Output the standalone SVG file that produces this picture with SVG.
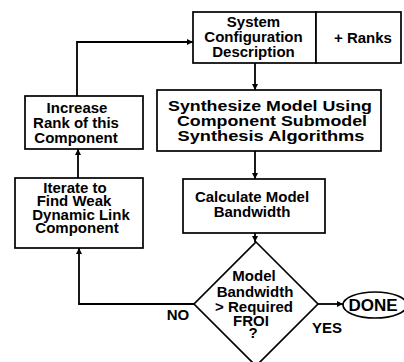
<svg xmlns="http://www.w3.org/2000/svg" width="404" height="362" viewBox="0 0 404 362">
<defs>
<marker id="ah" viewBox="0 0 10 10" refX="10" refY="5" markerWidth="7" markerHeight="6" markerUnits="userSpaceOnUse" orient="auto">
<path d="M0,0 L10,5 L0,10 z" fill="#000"/>
</marker>
<style>
.b{fill:#fff;stroke:#000;stroke-width:1.7}
.c{fill:none;stroke:#000;stroke-width:1.8;marker-end:url(#ah)}
text{font-family:"Liberation Sans",Arial,sans-serif;font-weight:bold;font-size:15px;text-anchor:middle;fill:#000}
.big{font-size:17px}
.syn{font-size:15.5px}
</style>
</defs>
<rect width="404" height="362" fill="#fff"/>
<g id="connectors">
<path class="c" d="M255,63 V90"/>
<path class="c" d="M255,151 V179"/>
<path class="c" d="M255,233 V242"/>
<path class="c" d="M317,304 H343"/>
<path class="c" d="M194,304 H79 V248"/>
<path class="c" d="M78,178 V149"/>
<path class="c" d="M77,96 V42 H193"/>
</g>
<g id="system">
<rect class="b" x="193" y="12" width="123" height="51"/>
<text x="253.5" y="27">System</text>
<text x="253.5" y="42">Configuration</text>
<text x="253.5" y="57">Description</text>
</g>
<g id="ranks">
<rect class="b" x="316" y="12" width="85" height="51"/>
<text x="363" y="43">+ Ranks</text>
</g>
<g id="synthesize">
<rect class="b" x="157" y="90" width="224" height="61"/>
<text class="syn" x="270" y="111" textLength="204" lengthAdjust="spacingAndGlyphs">Synthesize Model Using</text>
<text class="syn" x="272" y="126" textLength="190" lengthAdjust="spacingAndGlyphs">Component Submodel</text>
<text class="syn" x="271" y="141" textLength="187" lengthAdjust="spacingAndGlyphs">Synthesis Algorithms</text>
</g>
<g id="increase">
<rect class="b" x="25" y="96" width="118" height="53"/>
<text x="77" y="113">Increase</text>
<text x="76" y="128">Rank of this</text>
<text x="76" y="142.5">Component</text>
</g>
<g id="iterate">
<rect class="b" x="15" y="178" width="128" height="70"/>
<text x="75" y="193">Iterate to</text>
<text x="74" y="206">Find Weak</text>
<text x="81" y="219.5">Dynamic Link</text>
<text x="77" y="233">Component</text>
</g>
<g id="calculate">
<rect class="b" x="183" y="179" width="142" height="54"/>
<text x="252" y="202">Calculate Model</text>
<text x="252" y="217">Bandwidth</text>
</g>
<g id="decision">
<polygon class="b" points="256,242 318,304 256,366 194,304"/>
<text x="254" y="281">Model</text>
<text x="255" y="297">Bandwidth</text>
<text x="254" y="312">&gt; Required</text>
<text x="251" y="326">FROI</text>
<text x="253" y="338">?</text>
</g>
<g id="done">
<ellipse class="b" cx="375" cy="305" rx="32" ry="13"/>
<text class="big" x="373" y="311">DONE</text>
</g>
<g id="labels">
<text x="178" y="320">NO</text>
<text x="327" y="333">YES</text>
</g>
</svg>
